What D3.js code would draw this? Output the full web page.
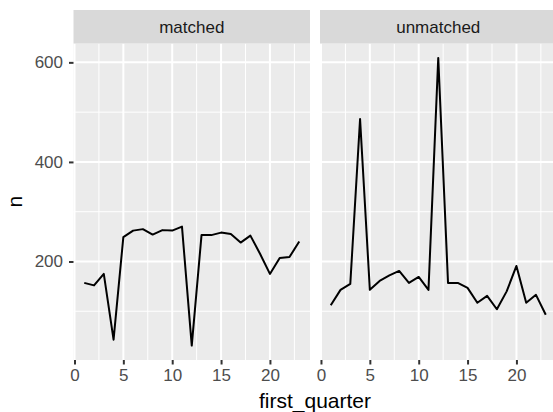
<!DOCTYPE html>
<html>
<head>
<meta charset="utf-8">
<script src="https://cdn.jsdelivr.net/npm/d3@7"></script>
<style>
  body { margin: 0; background: #fff; }
  svg { display: block; font-family: "Liberation Sans", Arial, sans-serif; }
</style>
</head>
<body>
<div id="chart"></div>
<script>
// data
var quarters = d3.range(1, 24);
var panels = ['matched', 'unmatched'];
var matched = [157, 152, 175, 43, 249, 262, 265, 254, 263, 262, 270, 31, 253,
               253, 258, 255, 238, 252, 215, 175, 207, 209, 240];
var unmatched = [112, 143, 155, 486, 143, 161, 172, 181, 157, 169, 143, 609, 157,
                 157, 147, 117, 131, 104, 140, 191, 117, 133, 93];
var xTicks = [0, 5, 10, 15, 20];
var xMinor = [2.5, 7.5, 12.5, 17.5, 22.5];
var yTicks = [200, 400, 600];
var yMinor = [100, 300, 500];

var width = 553, height = 412;
var panelTop = 43.5, panelBottom = 360;
var panelLeft = [73.5, 320];
var panelWidth = 236.5;
var stripTop = 10;

var series = { matched: matched, unmatched: unmatched };

var svg = d3.select('#chart').append('svg')
    .attr('width', width)
    .attr('height', height);

// ggplot-like 5% expansion
function expand(ext) {
    var pad = (ext[1] - ext[0]) * 0.05;
    return [ext[0] - pad, ext[1] + pad];
}

var x = d3.scaleLinear()
    .domain(expand(d3.extent(quarters)))
    .range([0, panelWidth]);

var y = d3.scaleLinear()
    .domain(expand(d3.extent(matched.concat(unmatched))))
    .range([panelBottom, panelTop]);

var line = d3.line()
    .x(function(d, i) { return x(quarters[i]); })
    .y(function(d) { return y(d); });

panels.forEach(function(name, p) {
    var g = svg.append('g')
        .attr('transform', 'translate(' + panelLeft[p] + ',0)');

    // panel background
    g.append('rect')
        .attr('x', 0).attr('y', panelTop)
        .attr('width', panelWidth).attr('height', panelBottom - panelTop)
        .attr('fill', '#EBEBEB');

    // minor grid
    g.selectAll('line.xminor').data(xMinor).enter().append('line')
        .attr('x1', function(d) { return x(d); }).attr('x2', function(d) { return x(d); })
        .attr('y1', panelTop).attr('y2', panelBottom)
        .attr('stroke', '#fff').attr('stroke-width', 1);
    g.selectAll('line.yminor').data(yMinor).enter().append('line')
        .attr('x1', 0).attr('x2', panelWidth)
        .attr('y1', function(d) { return y(d); }).attr('y2', function(d) { return y(d); })
        .attr('stroke', '#fff').attr('stroke-width', 1);

    // major grid
    g.selectAll('line.xmajor').data(xTicks).enter().append('line')
        .attr('x1', function(d) { return x(d); }).attr('x2', function(d) { return x(d); })
        .attr('y1', panelTop).attr('y2', panelBottom)
        .attr('stroke', '#fff').attr('stroke-width', 2);
    g.selectAll('line.ymajor').data(yTicks).enter().append('line')
        .attr('x1', 0).attr('x2', panelWidth)
        .attr('y1', function(d) { return y(d); }).attr('y2', function(d) { return y(d); })
        .attr('stroke', '#fff').attr('stroke-width', 2);

    // strip
    g.append('rect')
        .attr('x', 0).attr('y', stripTop)
        .attr('width', panelWidth).attr('height', panelTop - stripTop)
        .attr('fill', '#D9D9D9');
    g.append('text')
        .attr('x', panelWidth / 2).attr('y', (stripTop + panelTop) / 2)
        .attr('dy', '0.35em')
        .attr('text-anchor', 'middle')
        .attr('font-size', 17)
        .attr('fill', '#1A1A1A')
        .text(name);

    // the line
    g.append('path')
        .datum(series[name])
        .attr('d', line)
        .attr('fill', 'none')
        .attr('stroke', '#000')
        .attr('stroke-width', 2)
        .attr('stroke-linejoin', 'round');

    // x axis
    var xAxis = g.append('g')
        .attr('transform', 'translate(0,' + panelBottom + ')')
        .call(d3.axisBottom(x).tickValues(xTicks).tickSize(4.5).tickPadding(4));
    xAxis.select('.domain').remove();
    xAxis.selectAll('line').attr('stroke', '#333').attr('stroke-width', 2);
    xAxis.selectAll('text').attr('fill', '#4D4D4D').attr('font-size', 17);
    xAxis.attr('font-family', null);

    if (p === 0) {
        var yAxis = g.append('g')
            .call(d3.axisLeft(y).tickValues(yTicks).tickSize(4.5).tickPadding(6));
        yAxis.select('.domain').remove();
        yAxis.selectAll('line').attr('stroke', '#333').attr('stroke-width', 2);
        yAxis.selectAll('text').attr('fill', '#4D4D4D').attr('font-size', 17);
        yAxis.attr('font-family', null);
    }
});

// axis titles
svg.append('text')
    .attr('x', (panelLeft[0] + panelLeft[1] + panelWidth) / 2)
    .attr('y', 408)
    .attr('text-anchor', 'middle')
    .attr('font-size', 21)
    .attr('fill', '#000')
    .text('first_quarter');

svg.append('text')
    .attr('transform', 'translate(22,' + (panelTop + panelBottom) / 2 + ') rotate(-90)')
    .attr('text-anchor', 'middle')
    .attr('font-size', 21)
    .attr('fill', '#000')
    .text('n');
</script>
</body>
</html>
